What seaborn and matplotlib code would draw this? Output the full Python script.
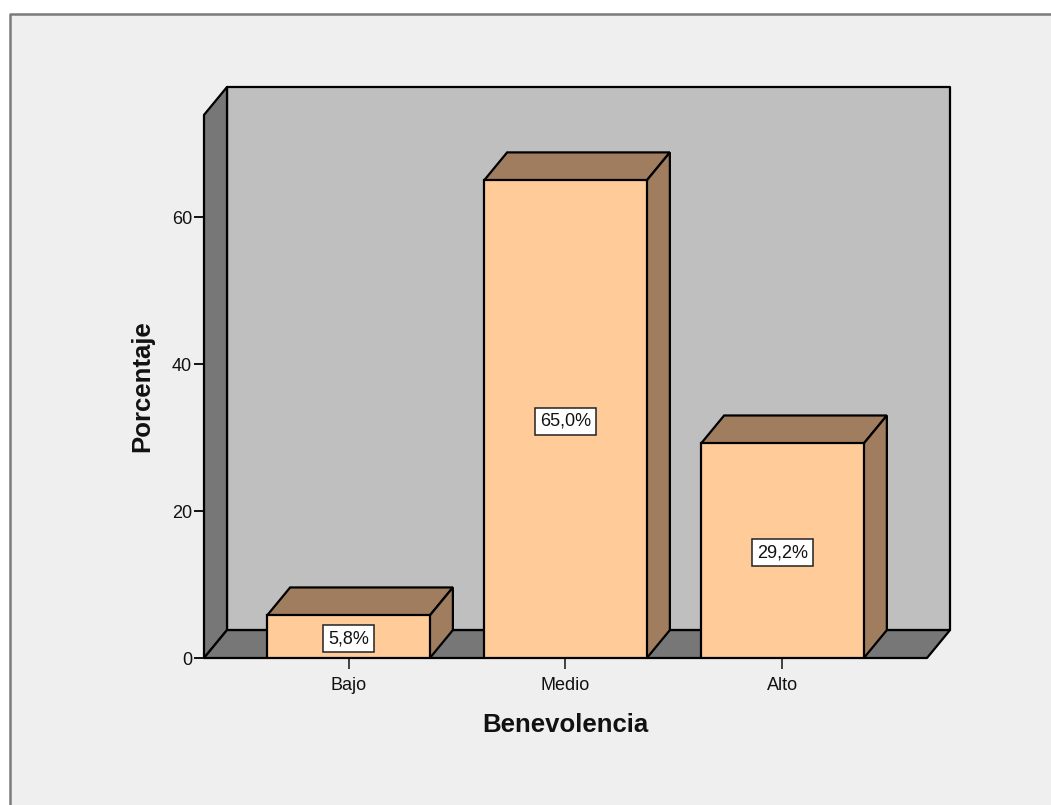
import pandas as pd
import matplotlib
matplotlib.use("Agg")
import matplotlib.pyplot as plt
from matplotlib.lines import Line2D
from matplotlib.patches import Rectangle
import seaborn as sns

# datos
categorias = ["Bajo", "Medio", "Alto"]
porcentajes = [5.8, 65.0, 29.2]
etiquetas = ["5,8%", "65,0%", "29,2%"]
ticks_y = [0, 20, 40, 60]

df = pd.DataFrame({"Benevolencia": categorias, "Porcentaje": porcentajes})

# colores del grafico
FONDO = "#efefef"
MARCO = "#7b7b7b"
PARED = "#bfbfbf"
PISO = "#777777"
BARRA = "#ffcc99"
BARRA_OSC = "#9f7d5e"

# profundidad del efecto 3D en unidades de datos
ancho = 0.75
dx = 0.106
dy = 3.8
x_min, x_max = -0.666, 2.666
y_max = 73.9

sns.set_theme(style="white")
plt.rcParams["font.family"] = ["Liberation Sans", "DejaVu Sans"]

W, H = 1051, 805
fig = plt.figure(figsize=(W / 100, H / 100), dpi=100, facecolor="white")

# panel gris de fondo con su marco (detras de los ejes)
fig.add_artist(Rectangle((10 / W, 0), 1 - 10 / W, 1 - 14 / H, transform=fig.transFigure,
                         facecolor=FONDO, edgecolor="none", zorder=-2))
fig.add_artist(Line2D([10 / W, 10 / W, 1], [0, 1 - 14 / H, 1 - 14 / H], transform=fig.transFigure,
                      color=MARCO, lw=1.8, zorder=-1))

ax = fig.add_axes([204 / W, 1 - 658 / H, 746 / W, 571 / H])
ax.patch.set_visible(False)

sns.barplot(data=df, x="Benevolencia", y="Porcentaje", order=categorias, color=BARRA,
            saturation=1, width=ancho, edgecolor="black", linewidth=1.6, ax=ax, zorder=5)

ax.set_xlim(x_min, x_max + dx)
ax.set_ylim(0, y_max + dy)

# paredes y piso
borde = dict(edgecolor="black", linewidth=1.6, joinstyle="round", zorder=1, clip_on=False)
ax.fill([x_min + dx, x_max + dx, x_max + dx, x_min + dx], [dy, dy, y_max + dy, y_max + dy],
        facecolor=PARED, **borde)
ax.fill([x_min, x_min + dx, x_min + dx, x_min], [0, dy, y_max + dy, y_max],
        facecolor=PISO, **borde)
ax.fill([x_min, x_max, x_max + dx, x_min + dx], [0, 0, dy, dy],
        facecolor=PISO, **borde)

# caras superior y lateral de cada barra
borde_barra = dict(edgecolor="black", linewidth=1.6, zorder=4, clip_on=False)
for i, valor in enumerate(porcentajes):
    izq, der = i - ancho / 2, i + ancho / 2
    ax.fill([izq, der, der + dx, izq + dx], [valor, valor, valor + dy, valor + dy],
            facecolor=BARRA_OSC, **borde_barra)
    ax.fill([der, der + dx, der + dx, der], [0, dy, valor + dy, valor],
            facecolor=BARRA_OSC, **borde_barra)
    ax.text(i, valor / 2, etiquetas[i], ha="center", va="center_baseline", fontsize=13,
            color="#111111", zorder=7,
            bbox=dict(boxstyle="square,pad=0.28", facecolor="white", edgecolor="#222222", linewidth=1.1))

for lado in ax.spines.values():
    lado.set_visible(False)

ax.set_yticks(ticks_y)
ax.tick_params(axis="y", left=True, length=7, width=1.3, color="black", pad=1.5,
               labelsize=13, labelcolor="#111111")
ax.tick_params(axis="x", bottom=True, length=8, width=1.3, color="#333333", pad=6,
               labelsize=13, labelcolor="#111111")

ax.set_xlabel("Benevolencia", fontsize=18.5, fontweight="bold", color="#111111", va="center")
ax.set_ylabel("Porcentaje", fontsize=18.5, fontweight="bold", color="#111111", va="center")
ax.xaxis.set_label_coords((565 - 204) / 746, -(725 - 658) / 571)
ax.yaxis.set_label_coords((142 - 204) / 746, (658 - 386) / 571)

fig.savefig("out.png", dpi=100)
